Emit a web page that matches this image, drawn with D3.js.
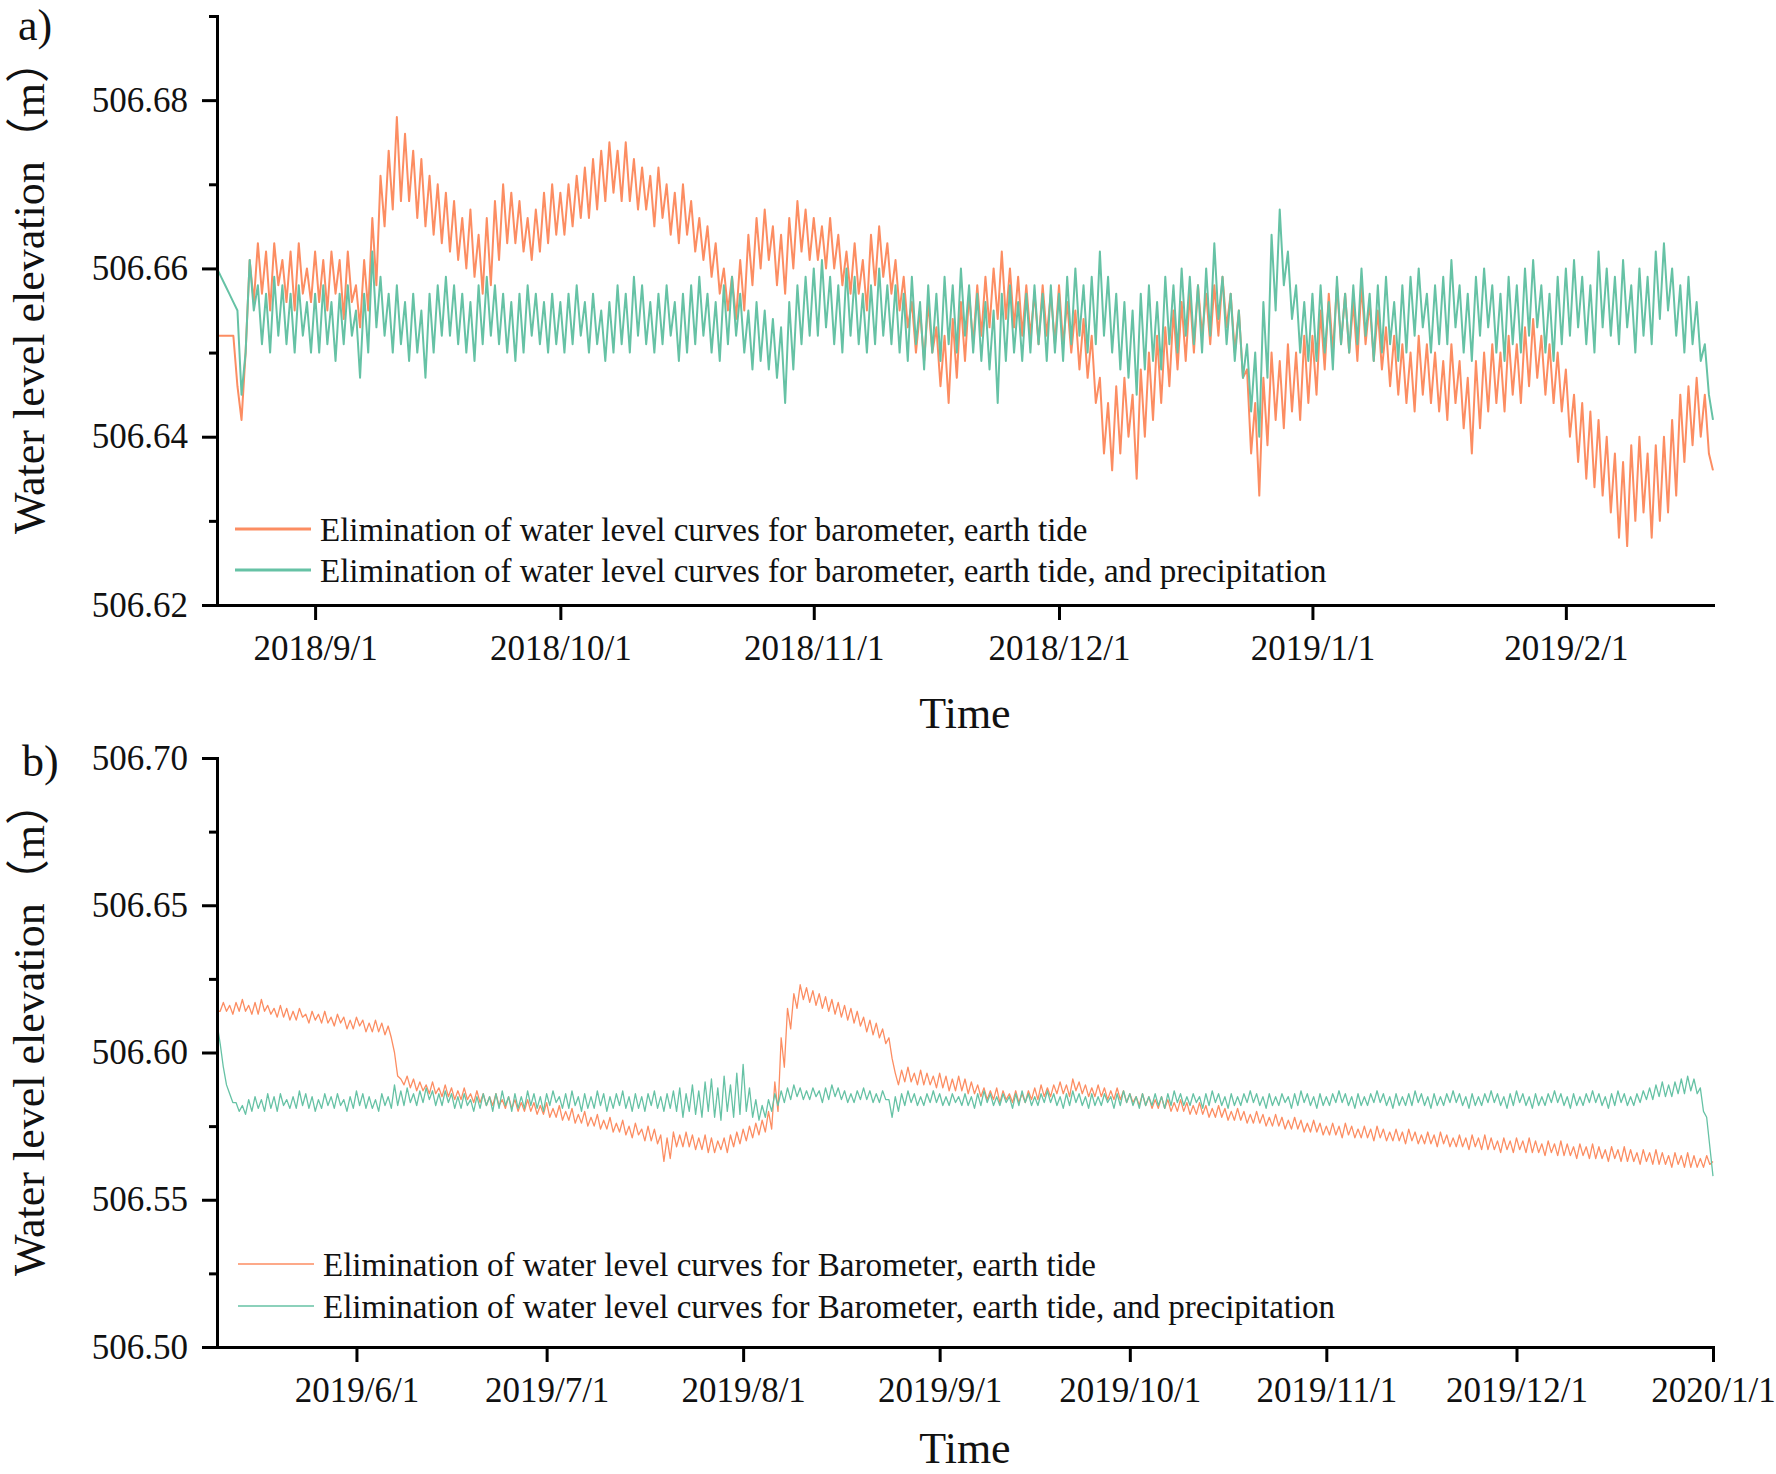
<!DOCTYPE html>
<html>
<head>
<meta charset="utf-8">
<script src="https://cdn.jsdelivr.net/npm/d3@7"></script>
<style>
  body { margin: 0; background: #fff; }
  text { font-family: "Liberation Serif", "Times New Roman", "Noto Sans CJK SC", serif; fill: #111; }
</style>
</head>
<body>
<svg id="chart" width="1776" height="1474"></svg>
<script>
// readings are 12 h apart, written as mm above a base level
const startA = new Date(2018, 7, 20), endA = new Date(2019, 1, 19);
const baseA = 506.600;
// Aug 20 .. Feb 18, barometer + earth tide removed
const orangeA = [
  52,52, 52,52, 52,46, 42,50, 61,56, 63,57, 62,55, 63,58, 61,56, 62,55,
  63,57, 60,56, 62,56, 61,55, 62,57, 61,54, 62,56, 58,53, 61,55, 66,58,
  71,65, 74,67, 78,68, 76,68, 74,66, 73,65, 71,64, 70,63, 69,62, 68,61,
  66,60, 67,59, 64,57, 66,58, 68,61, 70,63, 69,63, 68,62, 66,61, 67,62,
  69,63, 70,64, 69,64, 70,65, 71,66, 72,66, 73,67, 74,68, 75,69, 74,68,
  75,68, 73,67, 72,67, 71,65, 72,66, 70,64, 69,63, 70,64, 68,62, 66,61,
  65,59, 63,57, 60,55, 59,54, 61,55, 64,58, 66,60, 67,61, 65,58, 64,57,
  66,60, 68,62, 67,61, 66,61, 65,60, 66,60, 64,58, 62,57, 63,57, 61,55,
  64,58, 65,59, 63,57, 61,55, 59,53, 56,50, 55,49, 56,50, 53,46, 52,44,
  54,47, 56,49, 57,51, 58,52, 59,53, 60,54, 62,54, 60,53, 59,52, 58,52,
  57,51, 58,52, 57,51, 58,51, 56,50, 55,48, 54,47, 52,44, 47,38, 44,36,
  46,38, 47,40, 45,35, 48,40, 50,42, 52,44, 53,46, 55,48, 56,49, 57,50,
  58,52, 57,51, 58,52, 59,53, 57,50, 55,47, 48,38, 44,33, 47,39, 50,42,
  49,41, 51,43, 50,42, 52,44, 52,45, 55,48, 57,50, 58,51, 57,50, 56,49,
  58,51, 56,49, 55,48, 53,46, 52,45, 51,44, 50,43, 52,45, 51,44, 50,43,
  49,42, 51,44, 49,41, 47,38, 49,41, 50,43, 51,44, 50,43, 52,45, 51,44,
  53,46, 54,47, 52,45, 51,44, 50,43, 48,40, 45,37, 44,35, 43,34, 42,33,
  40,31, 38,28, 37,27, 39,30, 40,31, 38,28, 39,30, 40,31, 42,33, 45,37,
  46,39, 47,40, 45,38, 36
];
// barometer + earth tide + precipitation removed
const greenA = [
  60,59, 58,57, 56,55, 45,50, 61,55, 58,51, 57,50, 59,52, 58,51, 57,50,
  58,52, 56,50, 57,50, 58,51, 56,49, 57,51, 58,52, 55,47, 57,50, 62,53,
  59,52, 57,50, 58,51, 56,49, 57,50, 55,47, 57,50, 58,52, 59,52, 58,51,
  57,50, 56,49, 58,51, 59,52, 58,51, 57,50, 56,49, 57,50, 58,52, 57,51,
  56,50, 57,51, 56,50, 57,51, 58,52, 56,50, 57,51, 55,49, 56,50, 58,51,
  57,50, 59,52, 58,51, 56,50, 57,51, 58,52, 56,49, 57,50, 58,51, 59,52,
  57,50, 56,49, 58,51, 59,52, 57,50, 55,48, 56,49, 55,48, 54,47, 53,44,
  56,48, 58,51, 59,52, 60,52, 61,53, 59,51, 58,50, 60,52, 59,51, 57,50,
  58,51, 60,52, 58,51, 58,50, 57,49, 59,51, 56,48, 58,50, 57,49, 59,51,
  58,50, 60,52, 58,50, 57,49, 56,48, 55,44, 57,49, 58,50, 56,49, 57,50,
  58,51, 57,49, 58,50, 57,49, 59,51, 60,52, 58,50, 59,51, 62,52, 59,50,
  57,48, 56,47, 55,45, 57,48, 58,49, 56,48, 59,51, 58,50, 60,52, 59,51,
  58,50, 60,52, 63,54, 59,51, 57,49, 55,47, 51,43, 50,40, 56,47, 64,55,
  67,58, 62,54, 58,50, 56,49, 57,49, 58,50, 56,48, 59,51, 57,50, 58,51,
  60,52, 57,49, 58,50, 59,51, 56,49, 58,50, 59,52, 60,53, 57,50, 58,51,
  59,51, 61,53, 58,50, 57,49, 59,52, 60,53, 58,50, 57,49, 59,51, 58,50,
  60,52, 61,53, 58,50, 57,49, 59,51, 60,52, 61,53, 59,51, 58,50, 62,53,
  60,52, 59,51, 61,53, 58,50, 60,52, 59,51, 62,54, 63,55, 60,52, 58,50,
  59,51, 56,49, 51,45, 42
];

const startB = new Date(2019, 4, 10), endB = new Date(2020, 0, 1);
const baseB = 506.500;
// May 10 .. Dec 31
const orangeB = [
  114,114, 117,114, 116,113, 117,114, 118,114, 116,113, 117,113, 118,114,
  116,113, 115,112, 116,112, 115,111, 114,111, 115,112, 113,110, 114,111, 113,110, 114,110,
  112,109, 113,110, 112,108, 111,108, 112,109, 111,107, 110,107, 111,107, 110,106, 109,105,
  100,92, 91,89, 92,88, 91,87, 90,87, 89,86, 90,86, 88,85, 89,85, 88,84,
  87,84, 88,84, 86,83, 87,83, 86,82, 85,82, 86,82, 84,81, 85,81, 84,80,
  83,80, 84,80, 83,79, 82,79, 83,78, 81,78, 82,77, 80,77, 81,76, 79,76,
  80,75, 78,75, 79,74, 77,74, 78,73, 76,73, 77,72, 75,71, 76,72, 74,70,
  75,70, 74,69, 72,63, 71,64, 73,68, 72,68, 73,68, 72,67, 71,67, 72,66,
  71,66, 70,67, 71,66, 72,68, 73,69, 74,70, 75,71, 76,72, 77,73, 80,74,
  90,80, 105,95, 115,108, 120,115, 123,118, 122,117, 121,116, 120,115, 119,114, 118,113,
  117,112, 116,111, 115,110, 114,109, 112,107, 111,106, 110,105, 108,103, 105,98, 93,89,
  94,90, 95,90, 93,89, 94,89, 93,89, 92,88, 93,88, 92,87, 91,87, 92,87,
  91,86, 90,86, 89,85, 88,84, 87,84, 88,83, 87,84, 86,83, 87,83, 86,83,
  87,84, 88,84, 89,85, 88,85, 89,86, 90,86, 89,85, 91,87, 90,86, 89,85,
  88,85, 89,85, 88,84, 87,84, 88,84, 87,83, 86,83, 85,82, 86,82, 85,81,
  84,81, 85,81, 84,80, 83,80, 84,80, 83,79, 82,79, 83,79, 82,78, 81,78,
  82,78, 81,77, 80,77, 81,77, 80,76, 79,76, 80,76, 79,75, 78,75, 79,75,
  78,74, 77,74, 78,74, 77,73, 76,73, 77,73, 76,72, 75,72, 76,72, 75,71,
  76,72, 75,71, 74,71, 75,71, 74,70, 75,71, 74,70, 73,70, 74,70, 73,69,
  74,70, 73,69, 72,69, 73,69, 72,68, 73,69, 72,68, 71,68, 72,68, 71,67,
  72,68, 71,67, 72,67, 71,67, 70,66, 71,67, 70,66, 71,67, 70,66, 71,66,
  70,66, 69,65, 70,66, 69,65, 70,65, 69,65, 68,64, 69,65, 68,64, 69,64,
  68,64, 67,63, 68,64, 67,63, 68,63, 67,63, 66,62, 67,63, 66,62, 67,62,
  66,62, 65,61, 66,62, 65,61, 66,61, 65,61, 64,61, 65,62, 63
];
const greenB = [
  110,103, 95,89, 86,83, 83,80, 82,79, 84,80, 85,81, 84,80,
  86,81, 85,80, 86,82, 84,81, 85,81, 87,82, 86,81, 85,80, 84,81, 86,82,
  85,81, 86,82, 84,80, 85,81, 87,82, 86,81, 85,81, 84,80, 86,82, 85,81,
  89,82, 87,82, 88,83, 86,82, 87,83, 88,84, 87,82, 86,82, 87,83, 86,81,
  85,81, 86,82, 84,80, 85,81, 86,82, 85,80, 86,81, 87,82, 85,80, 86,81,
  85,81, 87,82, 86,81, 85,80, 86,82, 87,83, 85,81, 86,81, 87,82, 85,80,
  86,81, 85,81, 87,82, 86,80, 85,81, 86,82, 87,81, 85,80, 86,81, 85,80,
  86,82, 87,81, 85,80, 86,81, 87,80, 88,78, 86,80, 89,79, 87,78, 90,80,
  91,78, 88,77, 92,80, 89,78, 93,79, 96,80, 88,78, 84,77, 82,78, 84,80,
  86,82, 87,83, 88,84, 89,85, 88,84, 87,84, 88,85, 87,83, 88,84, 89,85,
  88,84, 87,83, 86,83, 87,84, 88,84, 87,83, 86,83, 87,84, 84,78, 85,80,
  86,82, 87,83, 86,82, 85,82, 86,83, 87,83, 86,82, 85,82, 86,83, 85,82,
  86,82, 85,81, 86,82, 87,83, 86,82, 85,82, 86,83, 85,81, 86,82, 87,83,
  86,82, 85,82, 86,83, 87,83, 86,82, 85,81, 86,82, 87,83, 86,82, 85,81,
  86,82, 85,82, 86,83, 85,81, 86,82, 87,83, 86,82, 85,81, 86,82, 85,82,
  86,82, 85,81, 86,82, 87,83, 86,82, 85,82, 86,83, 85,81, 86,82, 87,83,
  86,82, 85,81, 86,82, 85,82, 86,83, 87,83, 86,82, 85,81, 86,82, 85,82,
  86,83, 85,81, 86,82, 87,83, 86,82, 85,81, 86,82, 85,82, 86,83, 87,83,
  86,82, 85,81, 86,82, 85,82, 86,83, 87,83, 86,82, 85,81, 86,82, 85,82,
  86,82, 87,83, 86,82, 85,81, 86,82, 85,82, 86,83, 87,83, 86,82, 85,81,
  86,82, 85,82, 86,83, 87,83, 86,82, 85,81, 86,82, 87,83, 86,82, 85,81,
  86,82, 85,82, 86,83, 87,83, 86,82, 85,81, 86,82, 85,82, 86,83, 87,83,
  86,82, 85,81, 86,82, 87,83, 86,82, 85,82, 86,83, 87,84, 88,84, 89,85,
  90,85, 89,85, 90,86, 91,86, 92,87, 91,86, 88,80, 78,68, 58
];

const yTicksA = [506.62, 506.64, 506.66, 506.68];
const yMinorA = [506.63, 506.65, 506.67, 506.69];
const yTicksB = [506.50, 506.55, 506.60, 506.65, 506.70];
const yMinorB = [506.525, 506.575, 506.625, 506.675];
const xTicksA = [new Date(2018, 8, 1), new Date(2018, 9, 1), new Date(2018, 10, 1),
                 new Date(2018, 11, 1), new Date(2019, 0, 1), new Date(2019, 1, 1)];
const xTicksB = [new Date(2019, 5, 1), new Date(2019, 6, 1), new Date(2019, 7, 1), new Date(2019, 8, 1),
                 new Date(2019, 9, 1), new Date(2019, 10, 1), new Date(2019, 11, 1), new Date(2020, 0, 1)];
const legendA = ["Elimination of water level curves for barometer, earth tide",
                 "Elimination of water level curves for barometer, earth tide, and precipitation"];
const legendB = ["Elimination of water level curves for Barometer, earth tide",
                 "Elimination of water level curves for Barometer, earth tide, and precipitation"];

const colors = ["#fc8d62", "#66c2a5"];
const svg = d3.select("#chart");
const left = 217, right = 1713;

function toPoints(values, start, base) {
    return values.map((v, i) => ({ t: d3.timeHour.offset(start, i * 12), v: base + v / 1000 }));
}

function drawPanel(p) {
    const x = d3.scaleTime().domain(p.xDomain).range([left, right]);
    const y = d3.scaleLinear().domain(p.yDomain).range([p.bottom, p.top]);
    const g = svg.append("g");

    const line = d3.line().x(d => x(d.t)).y(d => y(d.v));
    p.series.forEach((s, i) => {
        g.append("path")
            .datum(toPoints(s, p.xDomain[0], p.base))
            .attr("d", line)
            .attr("fill", "none")
            .attr("stroke", colors[i])
            .attr("stroke-width", p.lineWidth)
            .attr("stroke-linejoin", "round");
    });

    // minor y ticks
    g.append("g")
        .attr("transform", `translate(${left},0)`)
        .call(d3.axisLeft(y).tickValues(p.yMinor).tickSize(8).tickFormat(""))
        .call(a => a.select(".domain").remove())
        .selectAll("line").attr("stroke", "#000").attr("stroke-width", 3);

    const yAxis = g.append("g")
        .attr("transform", `translate(${left},0)`)
        .call(d3.axisLeft(y).tickValues(p.yTicks).tickSize(15).tickSizeOuter(0)
            .tickPadding(14).tickFormat(d3.format(".2f")));
    yAxis.selectAll("text").attr("font-size", 35).attr("font-family", null);

    const xAxis = g.append("g")
        .attr("transform", `translate(0,${p.bottom})`)
        .call(d3.axisBottom(x).tickValues(p.xTicks).tickSize(15).tickSizeOuter(0).tickPadding(15)
            .tickFormat(d => `${d.getFullYear()}/${d.getMonth() + 1}/${d.getDate()}`));
    xAxis.selectAll("text").attr("font-size", 35).attr("font-family", null);

    [yAxis, xAxis].forEach(a => {
        a.select(".domain").attr("stroke", "#000").attr("stroke-width", 3).attr("stroke-linecap", "square");
        a.selectAll(".tick line").attr("stroke", "#000").attr("stroke-width", 3);
    });

    // legend
    p.legend.forEach((txt, i) => {
        const ly = p.legendY + i * p.legendGap;
        g.append("line")
            .attr("x1", p.legendX).attr("x2", p.legendX + 76)
            .attr("y1", ly).attr("y2", ly)
            .attr("stroke", colors[i]).attr("stroke-width", p.legendLine);
        g.append("text")
            .attr("x", p.legendX + 85).attr("y", ly).attr("dy", "0.35em")
            .attr("font-size", 33).text(txt);
    });

    g.append("text")
        .attr("x", (left + right) / 2).attr("y", p.timeY)
        .attr("text-anchor", "middle").attr("font-size", 44).text("Time");

    g.append("text")
        .attr("transform", `translate(44,${(p.top + p.bottom) / 2 - 24}) rotate(-90)`)
        .attr("text-anchor", "middle").attr("font-size", 44).text("Water level elevation（m）");

    g.append("text")
        .attr("x", p.tagX).attr("y", p.tagY)
        .attr("font-size", 44).text(p.tag);
}

drawPanel({
    top: 16, bottom: 605, xDomain: [startA, endA], yDomain: [506.62, 506.69], base: baseA,
    series: [orangeA, greenA], yTicks: yTicksA, yMinor: yMinorA, xTicks: xTicksA,
    lineWidth: 2, legend: legendA, legendX: 235, legendY: 529, legendGap: 41, legendLine: 3,
    tag: "a)", tagX: 18, tagY: 40, timeY: 728
});
drawPanel({
    top: 758, bottom: 1347, xDomain: [startB, endB], yDomain: [506.50, 506.70], base: baseB,
    series: [orangeB, greenB], yTicks: yTicksB, yMinor: yMinorB, xTicks: xTicksB,
    lineWidth: 1.3, legend: legendB, legendX: 238, legendY: 1264, legendGap: 42, legendLine: 1.6,
    tag: "b)", tagX: 22, tagY: 776, timeY: 1463
});
</script>
</body>
</html>
